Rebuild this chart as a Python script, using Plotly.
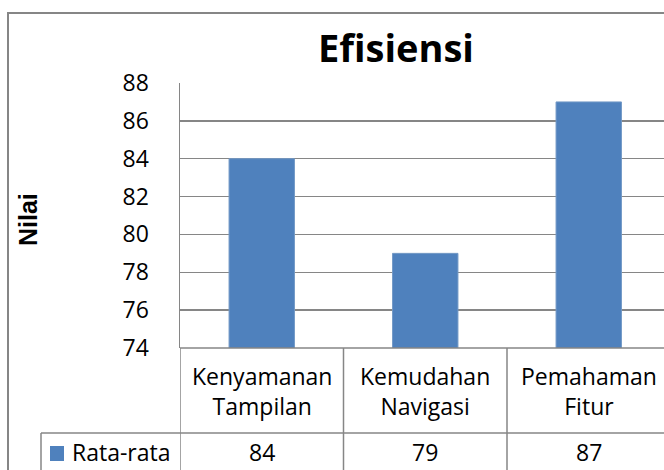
import plotly.graph_objects as go

categories = ["Kenyamanan<br>Tampilan", "Kemudahan<br>Navigasi", "Pemahaman<br>Fitur"]
values = [84, 79, 87]
series_name = "Rata-rata"
title_text = "Efisiensi"
y_title = "Nilai"
y_ticks = [74, 76, 78, 80, 82, 84, 86, 88]

W, H = 664, 470
L, R, T, B = 180, 0, 83, 122
PW = W - L - R
PH = H - T - B
GRAY = "#868686"
FONT = "Open Sans"


def px_x(px):
    return (px - L) / PW


def px_y(py):
    return (H - B - py) / PH


xs = list(range(len(categories)))

fig = go.Figure()
fig.add_trace(go.Bar(
    x=xs, y=values, name=series_name,
    marker=dict(color="#4F81BD", line=dict(color="#7399c6", width=1)),
    width=0.4, showlegend=False,
))

shapes = []
# outer chart border
shapes.append(dict(type="rect", xref="paper", yref="paper",
                   x0=px_x(8), x1=px_x(700), y0=px_y(520), y1=px_y(13),
                   line=dict(color=GRAY, width=2), layer="below"))
# data table: vertical lines at category boundaries
for i in range(len(categories) + 1):
    shapes.append(dict(type="line", xref="x", yref="paper",
                       x0=i - 0.5, x1=i - 0.5, y0=px_y(348), y1=px_y(480),
                       line=dict(color=GRAY, width=1.5)))
# horizontal line below axis (category row top)
shapes.append(dict(type="line", xref="paper", yref="paper",
                   x0=0, x1=px_x(700), y0=px_y(348), y1=px_y(348),
                   line=dict(color=GRAY, width=1.5)))
# horizontal line between category row and value row
shapes.append(dict(type="line", xref="paper", yref="paper",
                   x0=px_x(41), x1=px_x(700), y0=px_y(433), y1=px_y(433),
                   line=dict(color=GRAY, width=1.5)))
# legend cell left border
shapes.append(dict(type="line", xref="paper", yref="paper",
                   x0=px_x(41), x1=px_x(41), y0=px_y(433), y1=px_y(480),
                   line=dict(color=GRAY, width=1.5)))
# legend swatch
shapes.append(dict(type="rect", xref="paper", yref="paper",
                   x0=px_x(50), x1=px_x(64), y0=px_y(461), y1=px_y(446),
                   fillcolor="#4F81BD", line=dict(width=0)))

annotations = []
for i, (c, v) in enumerate(zip(categories, values)):
    annotations.append(dict(x=i, xref="x", y=px_y(391), yref="paper",
                            text=c, showarrow=False, xanchor="center", yanchor="middle",
                            font=dict(family=FONT, size=23, color="black")))
    annotations.append(dict(x=i, xref="x", y=px_y(452), yref="paper",
                            text=str(v), showarrow=False, xanchor="center", yanchor="middle",
                            font=dict(family=FONT, size=23, color="black")))
annotations.append(dict(x=px_x(70), xref="paper", y=px_y(452), yref="paper",
                        text=series_name, showarrow=False, xanchor="left", yanchor="middle",
                        font=dict(family=FONT, size=23, color="black")))
annotations.append(dict(x=px_x(28), xref="paper", y=px_y(220), yref="paper",
                        text="<b>" + y_title + "</b>", showarrow=False, textangle=-90,
                        xanchor="center", yanchor="middle",
                        font=dict(family="Liberation Sans", size=25, color="black")))
annotations.append(dict(x=px_x(395.5), xref="paper", y=px_y(47), yref="paper",
                        text="<b>" + title_text + "</b>", showarrow=False,
                        xanchor="center", yanchor="middle",
                        font=dict(family=FONT, size=38, color="black")))

cat_w = 163.5
fig.update_layout(
    width=W, height=H,
    margin=dict(l=L, r=R, t=T, b=B, pad=0),
    paper_bgcolor="white", plot_bgcolor="white",
    shapes=shapes, annotations=annotations,
    xaxis=dict(range=[-0.5, -0.5 + PW / cat_w], showticklabels=False, showgrid=False,
               zeroline=False, showline=False, ticks="", fixedrange=True),
    yaxis=dict(range=[74, 88], tickvals=y_ticks, showgrid=True, gridcolor=GRAY, gridwidth=1.5,
               zeroline=False, showline=True, linecolor=GRAY, linewidth=1.5,
               ticks="", ticklabelstandoff=25, fixedrange=True,
               tickfont=dict(family=FONT, size=23, color="black")),
    bargap=0.6,
    hovermode=False,
)

fig.write_html("out.html",
               config={"displayModeBar": False, "staticPlot": True},
               post_script="document.body.style.margin='0';document.body.style.overflow='hidden';")
